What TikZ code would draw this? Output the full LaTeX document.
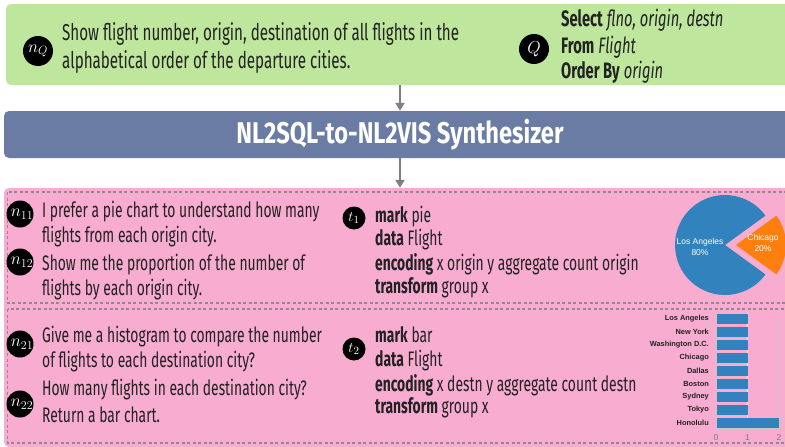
\documentclass[tikz,border=0pt]{standalone}
\usepackage[no-math]{fontspec}
\setmainfont{Fira Sans}[FakeStretch=0.66]
\newfontfamily\titlefont{Fira Sans}[FakeStretch=0.79]
\newfontfamily\chartfont{Liberation Sans}
\usetikzlibrary{arrows.meta}
\definecolor{bggreen}{HTML}{BEE69D}
\definecolor{bgblue}{HTML}{6A7CA4}
\definecolor{bgpink}{HTML}{F7ACD0}
\definecolor{dashgray}{HTML}{8C8C8C}
\definecolor{arrgray}{HTML}{7F7F7F}
\definecolor{pieblue}{HTML}{3182BD}
\definecolor{pieorange}{HTML}{FF7F0E}
\definecolor{txt}{HTML}{222222}
\definecolor{tickgray}{HTML}{7A7A7A}
\begin{document}
\begin{tikzpicture}[x=1pt,y=-1pt,
  panel/.style={rounded corners=5pt, inner sep=0pt, draw=none},
  arr/.style={draw=arrgray, line width=2pt, -{Triangle[length=8pt,width=9pt]}},
  dashbox/.style={draw=dashgray, line width=1.1pt, dash pattern=on 3pt off 2.5pt},
  bigdot/.style={circle, fill=black, inner sep=0pt, minimum size=30pt},
  dot/.style={circle, fill=black, inner sep=0pt, minimum size=27pt},
  tdot/.style={circle, fill=black, inner sep=0pt, minimum size=23pt},
  mlab/.style={text=white, inner sep=0pt, font=\fontsize{17}{17}\selectfont},
  line/.style={anchor=base west, inner sep=0pt, text=txt, font=\fontsize{21}{25}\selectfont},
  gline/.style={line, font=\fontsize{23}{27}\selectfont},
  sline/.style={line, font=\fontsize{22.3}{27}\selectfont},
  barlab/.style={anchor=east, inner sep=0pt, text=txt, font=\chartfont\bfseries\fontsize{7.4}{8}\selectfont},
  ticklab/.style={inner sep=0pt, text=tickgray, font=\chartfont\fontsize{8.5}{8.5}\selectfont},
  pielab/.style={inner sep=0pt, text=white, align=center, font=\chartfont\fontsize{8.5}{10.5}\selectfont}
]
\useasboundingbox (0,0) rectangle (785,447);
\fill[white] (0,0) rectangle (785,447);

% panels
\node[panel, fill=bggreen, minimum width=788pt, minimum height=81pt] (green) at (400,44.5) {};
\node[panel, fill=bgblue, minimum width=792pt, minimum height=47pt, text=white,
  font=\titlefont\bfseries\fontsize{30}{30}\selectfont] (synth) at (400,134.5) {NL2SQL-to-NL2VIS Synthesizer};
\node[panel, fill=bgpink, minimum width=792pt, minimum height=259pt] (pink) at (400,317.5) {};

\draw[arr] (green.south) -- (synth.north);
\draw[arr] (synth.south) -- (pink.north);

% dashed groups
\draw[dashbox] (7.5,192) rectangle (795,303);
\draw[dashbox] (7.5,309) rectangle (795,443);

% top question
\node[bigdot] (nq) at (38,51) {};
\node[mlab] (nqlab) at (nq) {$n_Q$};
\node[gline] (q1) at (62,40) {Show flight number, origin, destination of all flights in the};
\node[gline] (q2) at (62,68) {alphabetical order of the departure cities.};

\node[bigdot] (qd) at (534,49) {};
\node[mlab, font=\fontsize{19}{19}\selectfont] (qlab) at (qd) {$Q$};
\node[sline] (s1) at (561,27) {\textbf{Select} \textit{flno, origin, destn}};
\node[sline] (s2) at (561,53) {\textbf{From} \textit{Flight}};
\node[sline] (s3) at (561,78) {\textbf{Order By} \textit{origin}};

% group 1
\node[dot] (n11) at (20,214) {};
\node[mlab] (n11lab) at (22,214) {$n_{11}$};
\node[line] (a1) at (42,217) {I prefer a pie chart to understand how many};
\node[line] (a2) at (42,242) {flights from each origin city.};
\node[dot] (n12) at (20,262) {};
\node[mlab] (n12lab) at (22,262) {$n_{12}$};
\node[line] (a3) at (42,270) {Show me the proportion of the number of};
\node[line] (a4) at (42,295) {flights by each origin city.};

\node[tdot] (t1) at (354,218) {};
\node[mlab, font=\fontsize{15}{15}\selectfont] (t1lab) at (t1) {$t_1$};
\node[line] (b1) at (375,222) {\textbf{mark} pie};
\node[line] (b2) at (375,245) {\textbf{data} Flight};
\node[line] (b3) at (375,270) {\textbf{encoding} x origin y aggregate count origin};
\node[line] (b4) at (375,293) {\textbf{transform} group x};

% pie
\fill[pieblue] (725,245) -- ++(36:50) arc[start angle=36, end angle=324, radius=50] -- cycle;
\fill[pieorange] (736,245) -- ++(-36:50) arc[start angle=-36, end angle=36, radius=50] -- cycle;
\node[pielab] (la) at (700,247) {Los Angeles\\80\%};
\node[pielab] (chi) at (763,243) {Chicago\\20\%};

% group 2
\node[dot] (n21) at (20,344) {};
\node[mlab] (n21lab) at (22,344) {$n_{21}$};
\node[line] (c1) at (42,342) {Give me a histogram to compare the number};
\node[line] (c2) at (42,367) {of flights to each destination city?};
\node[dot] (n22) at (20,404) {};
\node[mlab] (n22lab) at (22,404) {$n_{22}$};
\node[line] (c3) at (42,395) {How many flights in each destination city?};
\node[line] (c4) at (42,422) {Return a bar chart.};

\node[tdot] (t2) at (354,349) {};
\node[mlab, font=\fontsize{15}{15}\selectfont] (t2lab) at (t2) {$t_2$};
\node[line] (d1) at (375,342) {\textbf{mark} bar};
\node[line] (d2) at (375,366) {\textbf{data} Flight};
\node[line] (d3) at (375,391) {\textbf{encoding} x destn y aggregate count destn};
\node[line] (d4) at (375,413) {\textbf{transform} group x};

% bar chart
\draw[gray!45, line width=0.6pt] (716,313) rectangle (779,428);
\draw[white!85!gray, line width=0.5pt] (747.5,313) -- (747.5,428);
\foreach \name/\v [count=\i from 0] in {Los Angeles/1,New York/1,Washington D.C./1,Chicago/1,Dallas/1,Boston/1,Sydney/1,Tokyo/1,Honolulu/2} {
  \fill[pieblue] (716.5,{319+13*\i-5}) rectangle ({716.5+31.3*\v},{319+13*\i+5});
  \node[barlab] (bl\i) at (709,{319+13*\i}) {\name};
}
\node[ticklab] (tk0) at (716,437.5) {0};
\node[ticklab] (tk1) at (747.5,437.5) {1};
\node[ticklab] (tk2) at (779,437.5) {2};
\end{tikzpicture}
\end{document}
